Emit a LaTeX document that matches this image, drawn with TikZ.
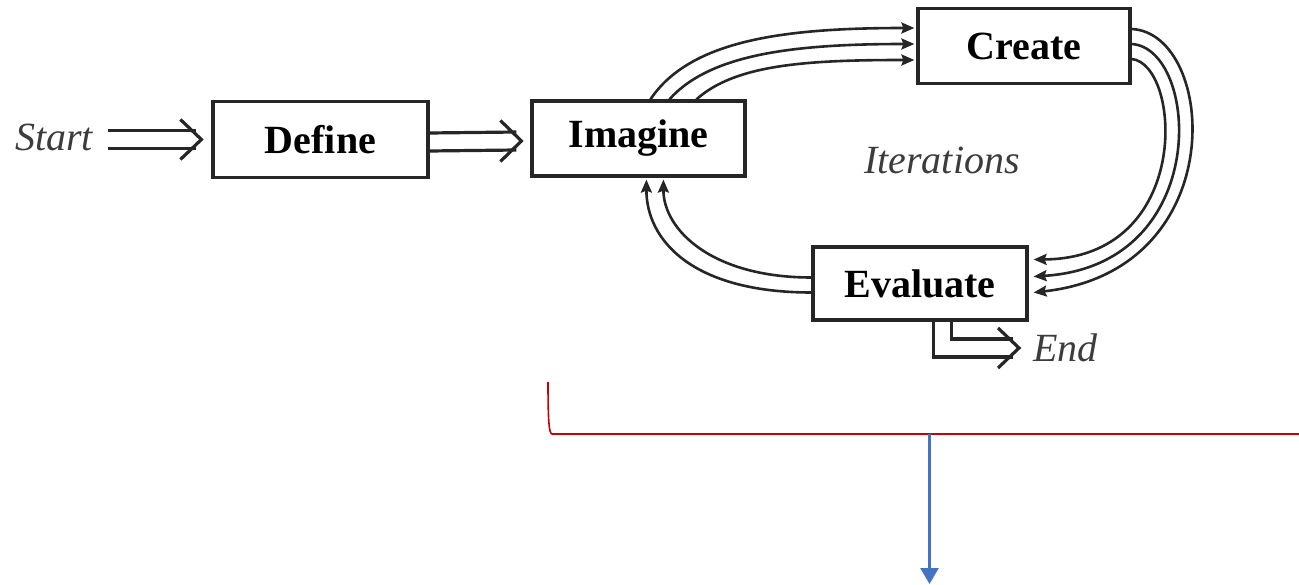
\documentclass[tikz,border=0pt]{standalone}
\usepackage{fontspec}
\setmainfont{Liberation Serif}
\usetikzlibrary{arrows.meta,calc}
\definecolor{redline}{RGB}{200,0,0}
\definecolor{blueline}{RGB}{68,114,196}
\definecolor{itgray}{RGB}{60,60,60}
\tikzset{
  stepbox/.style={draw=black!85, line width=3.2pt, inner sep=0pt, font=\fontsize{40}{42}\selectfont\bfseries},
  itlabel/.style={inner sep=0pt, text=itgray, font=\fontsize{40}{42}\selectfont\itshape},
  dline/.style={draw=black!85, line width=3.2pt},
  chev/.style={draw=black!85, line width=3.2pt, line join=miter},
  curve/.style={draw=black!85, line width=2.6pt, -{Stealth[length=13pt,width=11pt,inset=2pt]}},
}
\begin{document}
\begin{tikzpicture}[x=1pt,y=-1pt]
\useasboundingbox (0,0) rectangle (1299,585);
% nodes
\node[stepbox, minimum width=215, minimum height=76] (define) at (320.5,139.5) {Define};
\node[stepbox, minimum width=213, minimum height=75] (imagine) at (638.5,138.5) {Imagine};
\node[stepbox, minimum width=212, minimum height=75] (create) at (1024,46) {Create};
\node[stepbox, minimum width=214, minimum height=73] (evaluate) at (920,283.5) {Evaluate};
\node[itlabel] (start) at (54,137) {Start};
\node[itlabel] (iter) at (942,160) {Iterations};
\node[itlabel, anchor=west] (end) at (1033,348) {End};

% Start -> Define
\draw[dline] ($(define.west)+(-103,-9)$) -- ($(define.west)+(-15,-9)$);
\draw[dline] ($(define.west)+(-103,9)$) -- ($(define.west)+(-15,9)$);
\draw[chev] ($(define.west)+(-31,-20)$) -- ($(define.west)+(-10,0)$) -- ($(define.west)+(-31,20)$);

% Define -> Imagine
\draw[dline] ($(define.east)+(0,-6.5)$) -- ($(imagine.west)+(-14,-6.5)$);
\draw[dline] ($(define.east)+(0,11.5)$) -- ($(imagine.west)+(-14,11.5)$);
\draw[chev] ($(imagine.west)+(-30,-18)$) -- ($(imagine.west)+(-9,2.5)$) -- ($(imagine.west)+(-30,23)$);

% Imagine -> Create (three curves)
\draw[curve] ($(imagine.north west)+(120,0)$) .. controls ($(imagine.north west)+(160,-60)$) and ($(create.west)+(-130,-18)$) .. ($(create.west)+(-2,-18)$);
\draw[curve] ($(imagine.north west)+(139,0)$) .. controls ($(imagine.north west)+(180,-46)$) and ($(create.west)+(-120,-2)$) .. ($(create.west)+(-2,-2)$);
\draw[curve] ($(imagine.north west)+(166,0)$) .. controls ($(imagine.north west)+(205,-35)$) and ($(create.west)+(-110,14)$) .. ($(create.west)+(-2,14)$);

% Create -> Evaluate (three curves)
\draw[curve] ($(create.east)+(0,-17)$) .. controls ($(create.east)+(85,-13)$) and ($(evaluate.east)+(205,-13)$) .. ($(evaluate.east)+(5,9)$);
\draw[curve] ($(create.east)+(0,-2)$) .. controls ($(create.east)+(68,2)$) and ($(evaluate.east)+(185,-18)$) .. ($(evaluate.east)+(5,-7)$);
\draw[curve] ($(create.east)+(0,13)$) .. controls ($(create.east)+(50,18)$) and ($(evaluate.east)+(165,-25)$) .. ($(evaluate.east)+(5,-24)$);

% Evaluate -> Imagine (two curves)
\draw[curve] ($(evaluate.west)+(0,9)$) .. controls ($(evaluate.west)+(-120,9)$) and ($(imagine.south west)+(116,62)$) .. ($(imagine.south west)+(116,2)$);
\draw[curve] ($(evaluate.west)+(0,-6)$) .. controls ($(evaluate.west)+(-100,-6)$) and ($(imagine.south west)+(133,52)$) .. ($(imagine.south west)+(133,2)$);

% Evaluate -> End
\draw[dline] ($(evaluate.south west)+(122,0)$) |- ($(end.west)+(-20,9)$);
\draw[dline] ($(evaluate.south west)+(140,0)$) |- ($(end.west)+(-20,-9)$);
\draw[chev] ($(end.west)+(-35,-20)$) -- ($(end.west)+(-14,0)$) -- ($(end.west)+(-35,20)$);

% red bracket and blue arrow
\coordinate (rtop) at (548,382);
\coordinate (rcorner) at (552,434);
\coordinate (rend) at (1299,434);
\coordinate (bstart) at (929.5,434);
\coordinate (bend) at (929.5,584);
\draw[redline, line width=1.6pt] (rtop) .. controls (548,420) and (549,434) .. (rcorner) -- (rend);
\draw[blueline, line width=2.6pt, -{Triangle[length=16pt,width=18pt]}] (bstart) -- (bend);
\end{tikzpicture}
\end{document}
